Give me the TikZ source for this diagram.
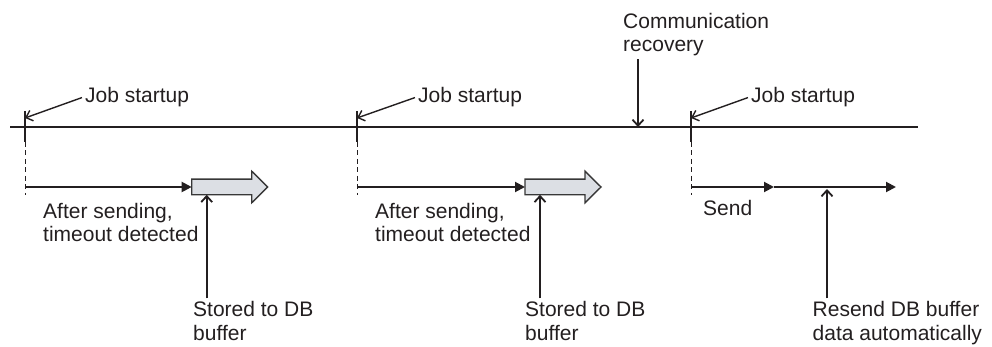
\documentclass[tikz,border=0pt]{standalone}
\usepackage{fontspec}
\setmainfont{Liberation Sans}
\usetikzlibrary{arrows.meta,positioning,calc}
\definecolor{tlink}{RGB}{35,31,32}
\definecolor{tlbuf}{RGB}{220,223,228}
\definecolor{tlbufline}{RGB}{55,55,55}

\begin{document}
\begin{tikzpicture}[x=1pt,y=-1pt,
        every node/.style={font=\fontsize{21}{23.5}\selectfont,text=tlink,inner sep=3pt,align=left},
        axis/.style={line width=2.3pt,draw=tlink},
        tickmark/.style={line width=2.6pt,draw=tlink},
        guide/.style={line width=1pt,draw=tlink,dash pattern=on 5pt off 3.5pt},
        flow/.style={line width=2pt,draw=tlink,-{Triangle[length=10pt,width=10pt]}},
        pointer/.style={line width=1.4pt,draw=tlink,-{Straight Barb[length=6pt,width=11pt]}},
        bufarrow/.pic={
          \draw[line width=1.4pt,draw=tlbufline,fill=tlbuf,line join=miter]
            (0,-7.8)--(60,-7.8)--(60,-15.8)--(76,0)--(60,15.8)--(60,7.8)--(0,7.8)--cycle;
          \coordinate (-tail) at (0,0);
          \coordinate (-bot) at (15,7.8);
        }]
      \useasboundingbox (0,0) rectangle (992,347);
      % time line
      \coordinate (tl0) at (10,127); \coordinate (tl1) at (918,127);
      \draw[axis] (tl0)--(tl1);
      \foreach \x [count=\i] in {25,357,691} {
        \coordinate (t\i) at (\x,127);
        \draw[tickmark] (\x,111)--(\x,142);
        \draw[guide] (\x,142)--(\x,195);
      }
      % job startups
      \node[anchor=base west] (js1) at (82,103)  {Job startup};
      \node[anchor=base west] (js2) at (415,103) {Job startup};
      \node[anchor=base west] (js3) at (748,103) {Job startup};
      \draw[pointer] (js1.west)--($(t1)+(0,-9)$);
      \draw[pointer] (js2.west)--($(t2)+(0,-9)$);
      \draw[pointer] (js3.west)--($(t3)+(0,-9)$);
      \node[anchor=base west] (comm) at (620,51.7) {Communication\\recovery};
      \coordinate (rec) at (638,127);
      \draw[pointer,line width=1.8pt] (rec |- comm.south)--(rec);
      % sending
      \coordinate (s1) at (25,187); \coordinate (s2) at (357,187); \coordinate (s3) at (691,187);
      \pic (b1) at (191.7,187) {bufarrow};
      \pic (b2) at (525,187) {bufarrow};
      \draw[flow] (s1)--(b1-tail);
      \draw[flow] (s2)--(b2-tail);
      \coordinate (m3) at (774,187); \coordinate (e3) at (896,187);
      \draw[flow] (s3)--(m3); \draw[flow] (m3)--(e3);
      \node[anchor=base west] (after1) at (40,241.5)  {After sending,\\timeout detected};
      \node[anchor=base west] (after2) at (372,241.5) {After sending,\\timeout detected};
      \node[anchor=base west] (send)   at (700,215.7) {Send};
      % buffer
      \node[anchor=base west] (stored1) at (190,340.2)   {Stored to DB\\buffer};
      \node[anchor=base west] (stored2) at (522,340.2)   {Stored to DB\\buffer};
      \node[anchor=base west] (resend)  at (809.5,340.2) {Resend DB buffer\\data automatically};
      \coordinate (r3) at (827,189);
      \draw[pointer,line width=1.8pt] (b1-bot |- stored1.north)--(b1-bot);
      \draw[pointer,line width=1.8pt] (b2-bot |- stored2.north)--(b2-bot);
      \draw[pointer,line width=1.8pt] (r3 |- resend.north)--(r3);
    \end{tikzpicture}
\end{document}
